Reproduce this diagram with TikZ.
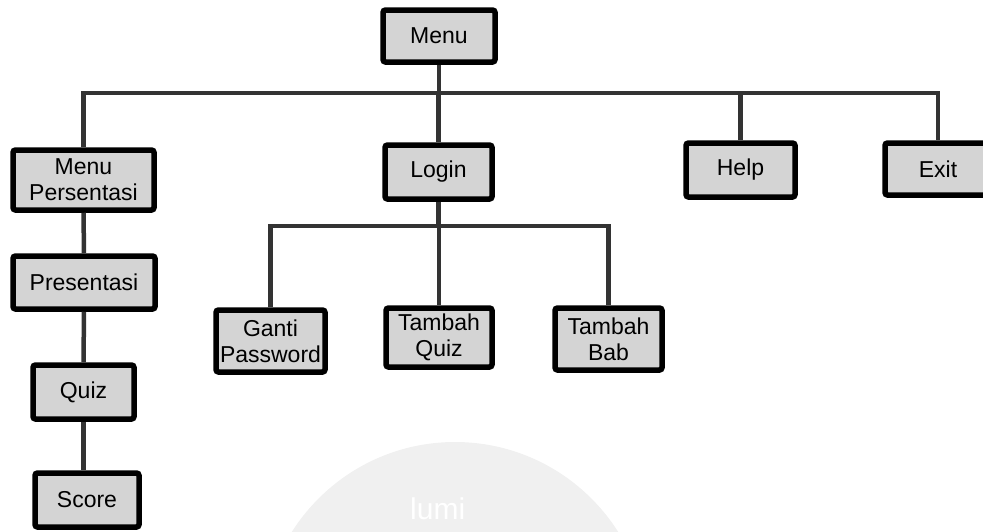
\documentclass[tikz,border=0pt]{standalone}
\usepackage{fontspec}
\setmainfont{Liberation Sans}
\begin{document}
\begin{tikzpicture}[x=1pt,y=-1pt,
  menubox/.style={draw=black, line width=5.5pt, fill=black!17, rounded corners=2.5pt,
    align=center, inner sep=1pt, font=\fontsize{23}{26}\selectfont},
  link/.style={draw=black!80, line width=4.5pt}]
\useasboundingbox (0,0) rectangle (983,531);
% faint seal in the background
\fill[black!6] (455,635) circle (193);
\node[anchor=north west, text=white, inner sep=0pt, font=\fontsize{30}{30}\selectfont] (seal) at (410,498) {lumi};
% top level
\node[menubox, minimum width=112, minimum height=52] (menu) at (439,36) {Menu};
\node[menubox, minimum width=141, minimum height=60] (mp) at (83.5,180) {Menu\\Persentasi};
\node[menubox, minimum width=107, minimum height=54] (login) at (438.5,172) {Login};
\node[menubox, minimum width=109, minimum height=54] (help) at (740.5,170) {Help};
\node[menubox, minimum width=106, minimum height=52] (exit) at (938,169) {Exit};
% presentation branch
\node[menubox, minimum width=142, minimum height=53] (pres) at (84,282.5) {Presentasi};
\node[menubox, minimum width=101, minimum height=54] (quiz) at (83.5,392) {Quiz};
\node[menubox, minimum width=104, minimum height=54] (score) at (87,500) {Score};
% login branch
\node[menubox, minimum width=109, minimum height=62] (ganti) at (270.5,341) {Ganti\\Password};
\node[menubox, minimum width=106, minimum height=59] (tquiz) at (439,337.5) {Tambah\\Quiz};
\node[menubox, minimum width=107, minimum height=62] (tbab) at (608.5,339) {Tambah\\Bab};
% bus lines
\coordinate (bus1) at (0,93);
\coordinate (bus2) at (0,226);
\path[link] (menu.south) -- (menu.south |- bus1);
\path[link] (mp.north) |- (exit.north |- bus1) -- (exit.north);
\path[link] (login.north) -- (login.north |- bus1);
\path[link] (help.north) -- (help.north |- bus1);
\path[link] (login.south) -- (login.south |- bus2);
\path[link] (ganti.north) |- (tbab.north |- bus2) -- (tbab.north);
\path[link] (tquiz.north) -- (tquiz.north |- bus2);
\path[link] (mp.south) -- (pres.north);
\path[link] (pres.south) -- (quiz.north);
\path[link] (quiz.south) -- (score.north -| quiz.south);
\end{tikzpicture}
\end{document}
